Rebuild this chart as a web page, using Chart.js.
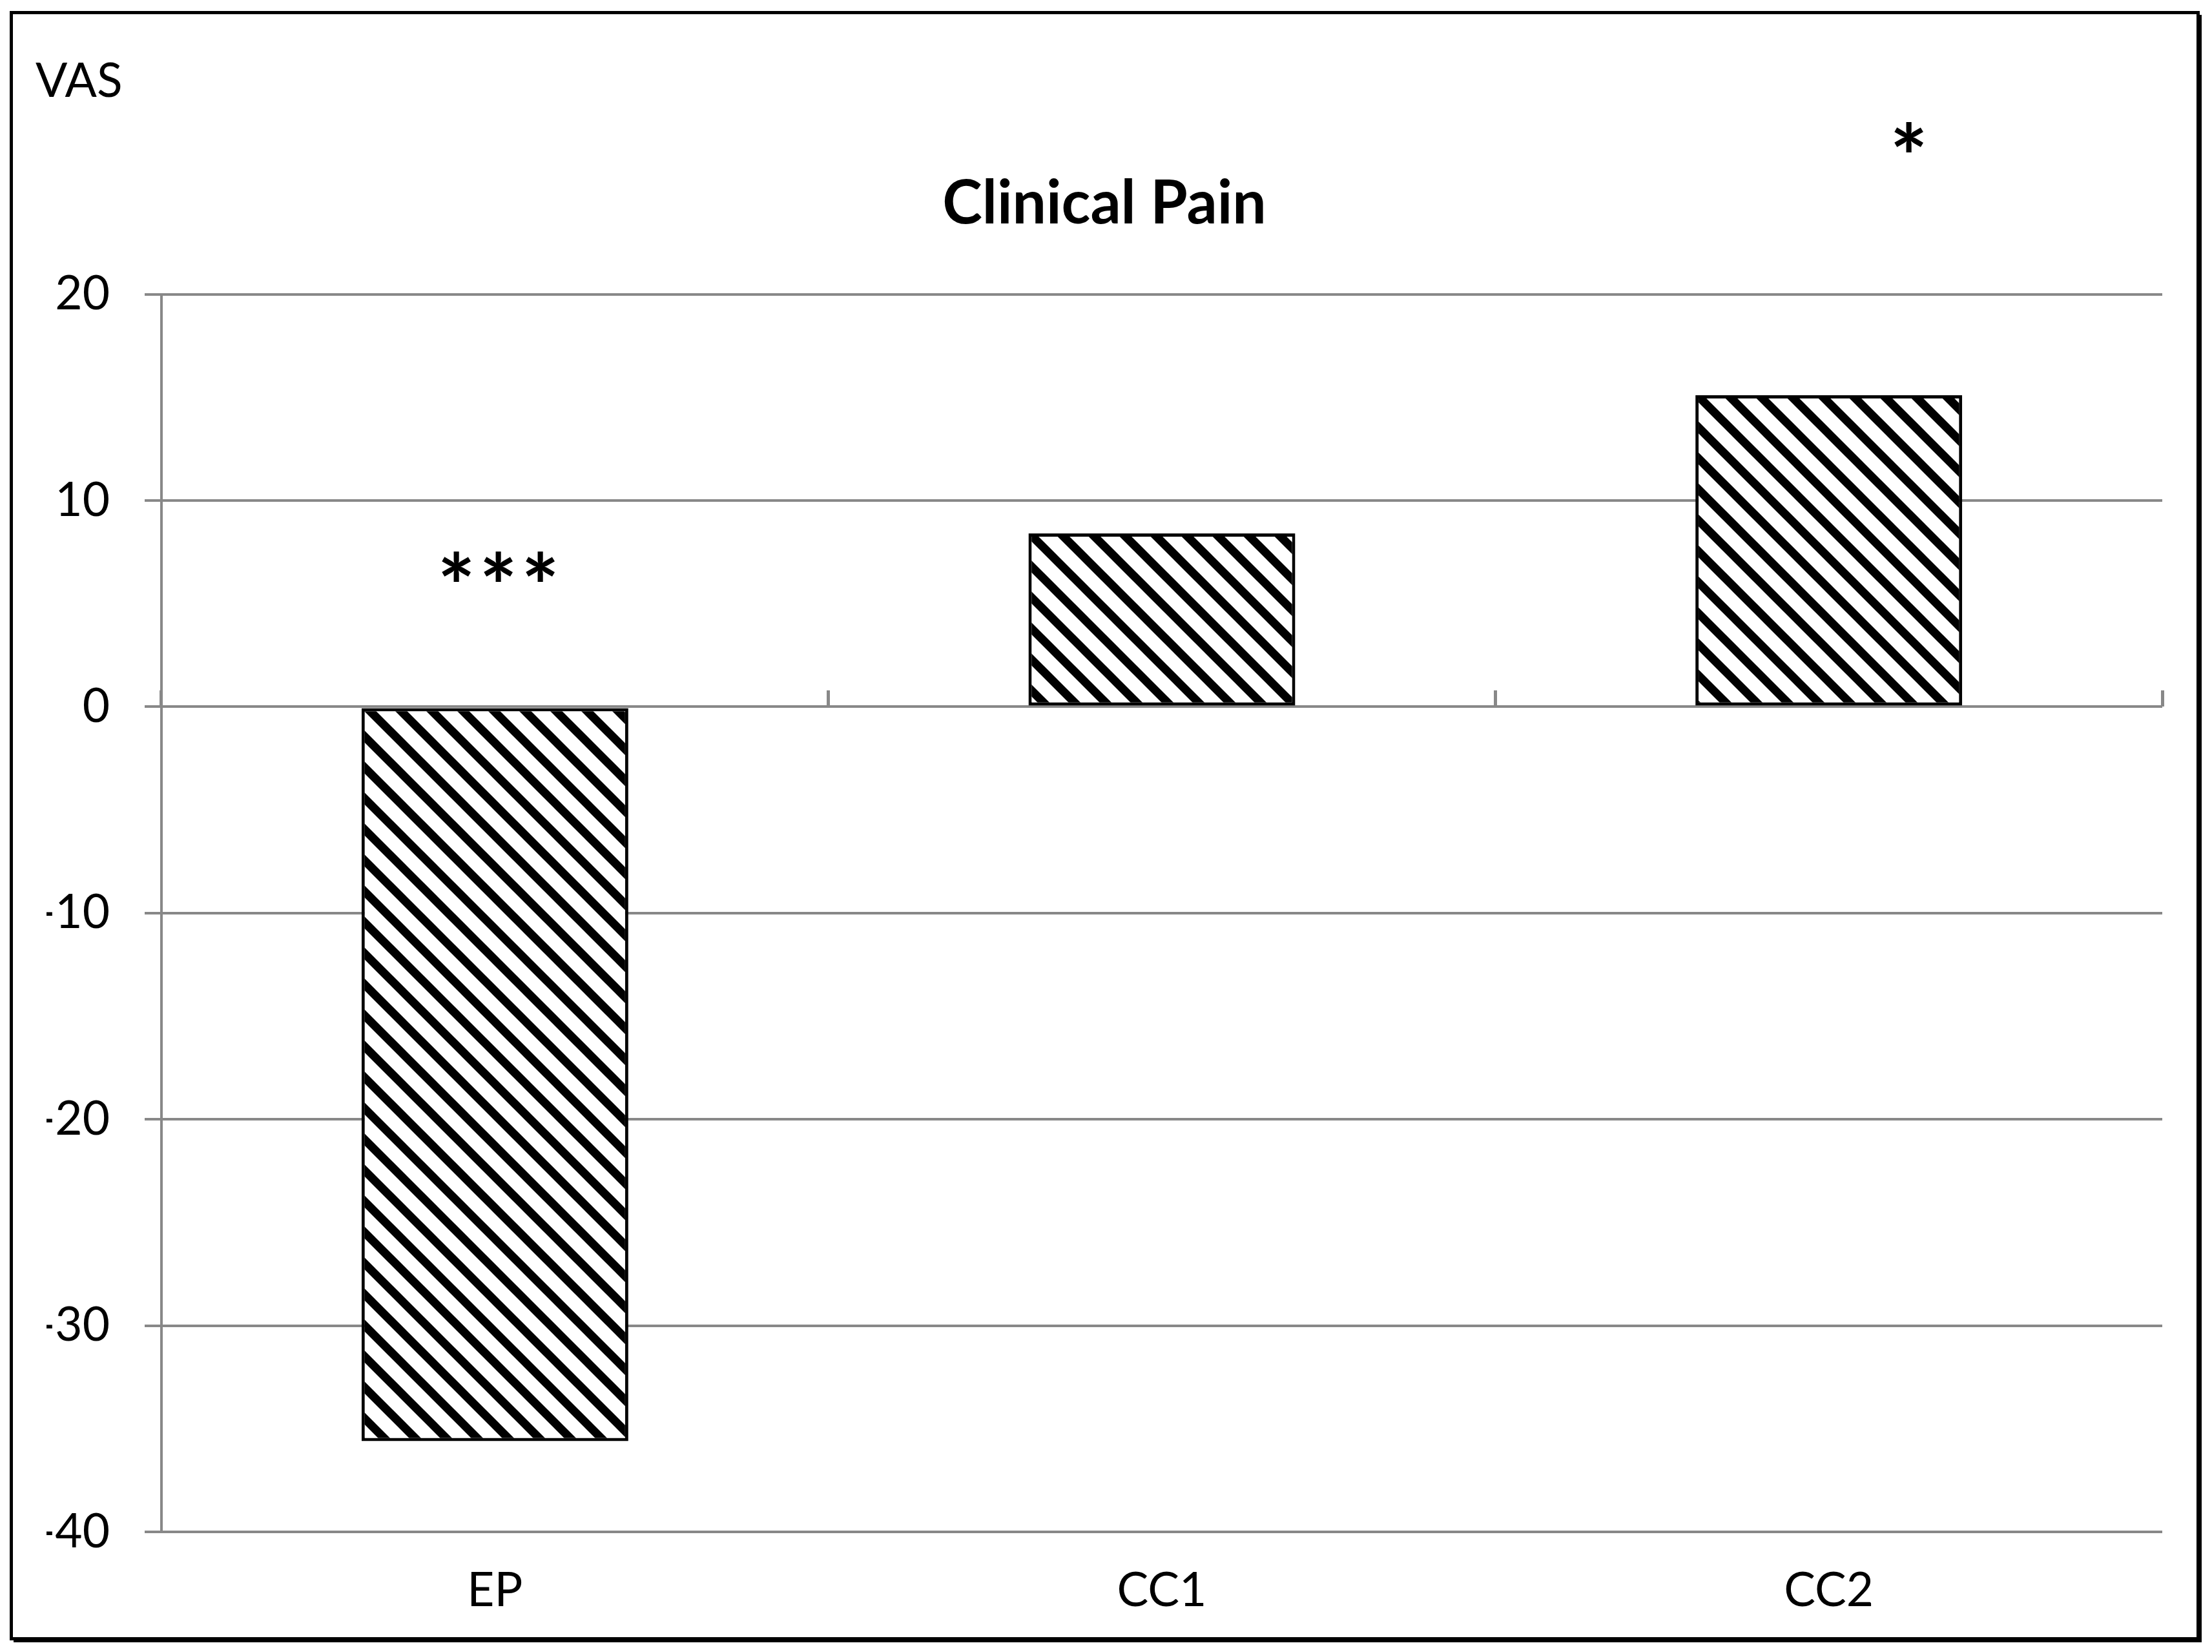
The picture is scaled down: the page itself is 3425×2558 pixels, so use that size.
<!DOCTYPE html>
<html>
<head>
<meta charset="utf-8">
<title>Clinical Pain</title>
<script src="https://cdn.jsdelivr.net/npm/chart.js@4.4.1/dist/chart.umd.min.js"></script>
<style>
  html, body { margin: 0; padding: 0; background: #fff; }
  #wrap { width: 3425px; height: 2558px; }
</style>
</head>
<body>
<div id="wrap"><canvas id="painChart" width="3425" height="2558"></canvas></div>
<script>
// data
const groups = ['EP', 'CC1', 'CC2'];
const vasChange = [-35.6, 8.4, 15.1];
const yTicks = [20, 10, 0, -10, -20, -30, -40];
const marks = ['***', '', '*'];
const markLevels = [6.8, null, 27.6];

const GRID = '#888888';
const FONT = 'Lato, "Open Sans", sans-serif';

// diagonal hatch like the Excel "wide downward diagonal" fill
function hatchPattern() {
    const size = 48;
    const tile = document.createElement('canvas');
    tile.width = size;
    tile.height = size;
    const c = tile.getContext('2d');
    c.fillStyle = '#fff';
    c.fillRect(0, 0, size, size);
    c.strokeStyle = '#000';
    c.lineWidth = 13;
    for (let k = -1; k <= 1; k++) {
        c.beginPath();
        c.moveTo(k * size - 12, -12);
        c.lineTo(k * size + size + 12, size + 12);
        c.stroke();
    }
    return c.createPattern(tile, 'repeat');
}

// outer frame with the small drop shadow, plus the "VAS" unit label
const framePlugin = {
    id: 'frame',
    afterDraw(chart) {
        const ctx = chart.ctx;
        ctx.save();
        ctx.strokeStyle = '#000';
        ctx.lineWidth = 5;
        ctx.strokeRect(17.5, 19.5, 3386, 2518);
        ctx.fillStyle = '#000';
        ctx.fillRect(3404, 23, 5, 2520);
        ctx.fillRect(21, 2538, 3388, 5);

        ctx.font = '73px ' + FONT;
        ctx.textAlign = 'left';
        ctx.textBaseline = 'alphabetic';
        ctx.fillText('VAS', 55, 150);
        ctx.restore();
    }
};

// significance stars
const starPlugin = {
    id: 'stars',
    afterDatasetsDraw(chart) {
        const ctx = chart.ctx;
        const x = chart.scales.x;
        const y = chart.scales.y;
        const shift = [0.005, 0, 0.12];
        const band = x.getPixelForValue(1) - x.getPixelForValue(0);
        ctx.save();
        ctx.fillStyle = '#000';
        ctx.font = 'bold 100px ' + FONT;
        const m = ctx.measureText('*');
        const h = m.actualBoundingBoxAscent + m.actualBoundingBoxDescent;
        const size = 100 * 47 / h;
        ctx.font = 'bold ' + size + 'px ' + FONT;
        const mm = ctx.measureText('*');
        ctx.textAlign = 'center';
        ctx.textBaseline = 'alphabetic';
        marks.forEach(function(txt, i) {
            if (!txt) return;
            const cx = x.getPixelForValue(i) + shift[i] * band;
            const cy = y.getPixelForValue(markLevels[i]);
            const base = cy + (mm.actualBoundingBoxAscent - mm.actualBoundingBoxDescent) / 2;
            const n = txt.length;
            for (let j = 0; j < n; j++) {
                ctx.fillText('*', cx + (j - (n - 1) / 2) * 65, base);
            }
        });
        ctx.restore();
    }
};

new Chart(document.getElementById('painChart'), {
    type: 'bar',
    data: {
        labels: groups,
        datasets: [{
            label: 'VAS',
            data: vasChange,
            backgroundColor: hatchPattern(),
            borderColor: '#000',
            borderWidth: 5,
            borderSkipped: false,
            barPercentage: 0.4,
            categoryPercentage: 1.0
        }]
    },
    options: {
        responsive: false,
        animation: false,
        devicePixelRatio: 1,
        layout: { padding: { left: 72, right: 77, top: 0, bottom: 0 } },
        plugins: {
            legend: { display: false },
            tooltip: { enabled: false },
            title: {
                display: true,
                text: 'Clinical Pain',
                color: '#000',
                font: { family: FONT, size: 93, weight: 'bold' },
                padding: { top: 260, bottom: 84 }
            }
        },
        scales: {
            x: {
                offset: true,
                grid: { display: false, drawTicks: false, offset: true },
                border: { display: false },
                ticks: { color: '#000', font: { family: FONT, size: 73 }, padding: 48 },
                afterFit: function(s) { s.height = 186; }
            },
            x2: {
                type: 'category',
                labels: groups,
                position: { y: 0 },
                offset: true,
                grid: {
                    offset: true,
                    drawOnChartArea: false,
                    color: GRID,
                    lineWidth: 5,
                    tickLength: -25
                },
                border: { display: false },
                ticks: { display: false }
            },
            y: {
                min: -40,
                max: 20,
                afterBuildTicks: function(s) {
                    s.ticks = yTicks.map(function(v) { return { value: v }; });
                },
                grid: { color: GRID, lineWidth: 4, tickLength: 26 },
                border: { display: true, color: GRID, width: 4 },
                ticks: {
                    color: '#000',
                    font: { family: FONT, size: 73 },
                    padding: 54,
                    callback: function(v) { return String(v); }
                },
                afterFit: function(s) { s.width = 178; }
            }
        }
    },
    plugins: [framePlugin, starPlugin]
});
</script>
</body>
</html>
